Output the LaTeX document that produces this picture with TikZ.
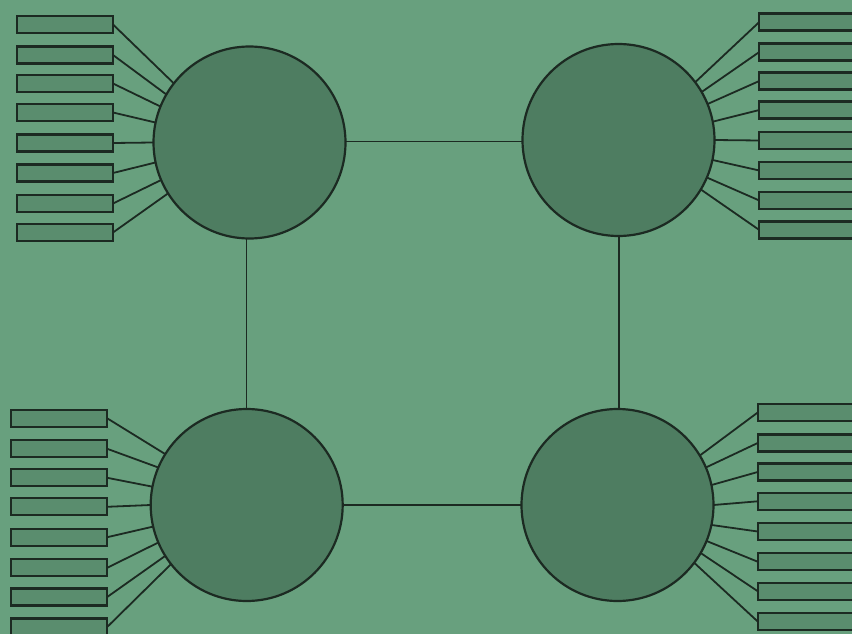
\documentclass[tikz,border=0pt]{standalone}
\begin{document}
\begin{tikzpicture}[x=1pt,y=-1pt,
  hub/.style={circle,draw=linec,line width=2.2pt,fill=hubfill,minimum size=192pt,inner sep=0pt,outer sep=0pt},
  leaf/.style={rectangle,draw=linec,line width=2.2pt,fill=leaffill,minimum width=96pt,minimum height=17pt,inner sep=0pt,outer sep=0pt},
  link/.style={draw=linec,line width=1.8pt}]
\definecolor{bgc}{HTML}{68A07E}
\definecolor{hubfill}{HTML}{4E7D61}
\definecolor{leaffill}{HTML}{5A8D6E}
\definecolor{linec}{HTML}{1C2A22}
\useasboundingbox (0,0) rectangle (852,634);
\fill[bgc] (0,0) rectangle (852,634);
\begin{scope}
\clip (0,0) rectangle (852,634);
% hubs
\node[hub] (A) at (249.5,142.5) {};
\node[hub] (B) at (618.5,140) {};
\node[hub] (C) at (246.7,505) {};
\node[hub] (D) at (617.5,505) {};
% hub links
\draw[link] (A.east |- 0,141.5) coordinate (a1) -- (B.west |- a1);
\draw[link] (C.east |- 0,505) coordinate (c1) -- (D.west |- c1);
\draw[link] (A.south -| 246.5,0) coordinate (a2) -- (C.north -| a2);
\draw[link] (B.south -| 619.3,0) coordinate (b2) -- (D.north -| b2);
% top-left leaves
\foreach \i/\y/\ang in {1/24.5/142.5,2/55/150,3/83.5/158,4/112.5/168.6,5/143/180,6/173/192.4,7/203.5/203.6,8/232.5/212.5}{
  \node[leaf] (A\i) at (65,\y) {};
  \draw[link] (A\i.east) -- (A.\ang);
}
% top-right leaves
\foreach \i/\y/\ang in {1/22/37.5,2/52/30.3,3/81/22.2,4/110/11,5/140.5/0,6/170.5/-12.5,7/200.5/-23.5,8/230/-31.7}{
  \node[leaf] (B\i) at (807.3,\y) {};
  \draw[link] (B\i.west) -- (B.\ang);
}
% bottom-left leaves
\foreach \i/\y/\ang in {1/418.3/148,2/448.8/157,3/477.8/169,4/506.8/180,5/537.2/193.4,6/567.8/203.6,7/597/212.3,8/627/218.6}{
  \node[leaf] (C\i) at (59.2,\y) {};
  \draw[link] (C\i.east) -- (C.\ang);
}
% bottom-right leaves
\foreach \i/\y/\ang in {1/412.5/31.8,2/443/23.2,3/472/12.2,4/501.3/0,5/531.5/-12.2,6/561.7/-22,7/591.2/-30.5,8/621.5/-37.4}{
  \node[leaf] (D\i) at (805.7,\y) {};
  \draw[link] (D\i.west) -- (D.\ang);
}
\end{scope}
\end{tikzpicture}
\end{document}
